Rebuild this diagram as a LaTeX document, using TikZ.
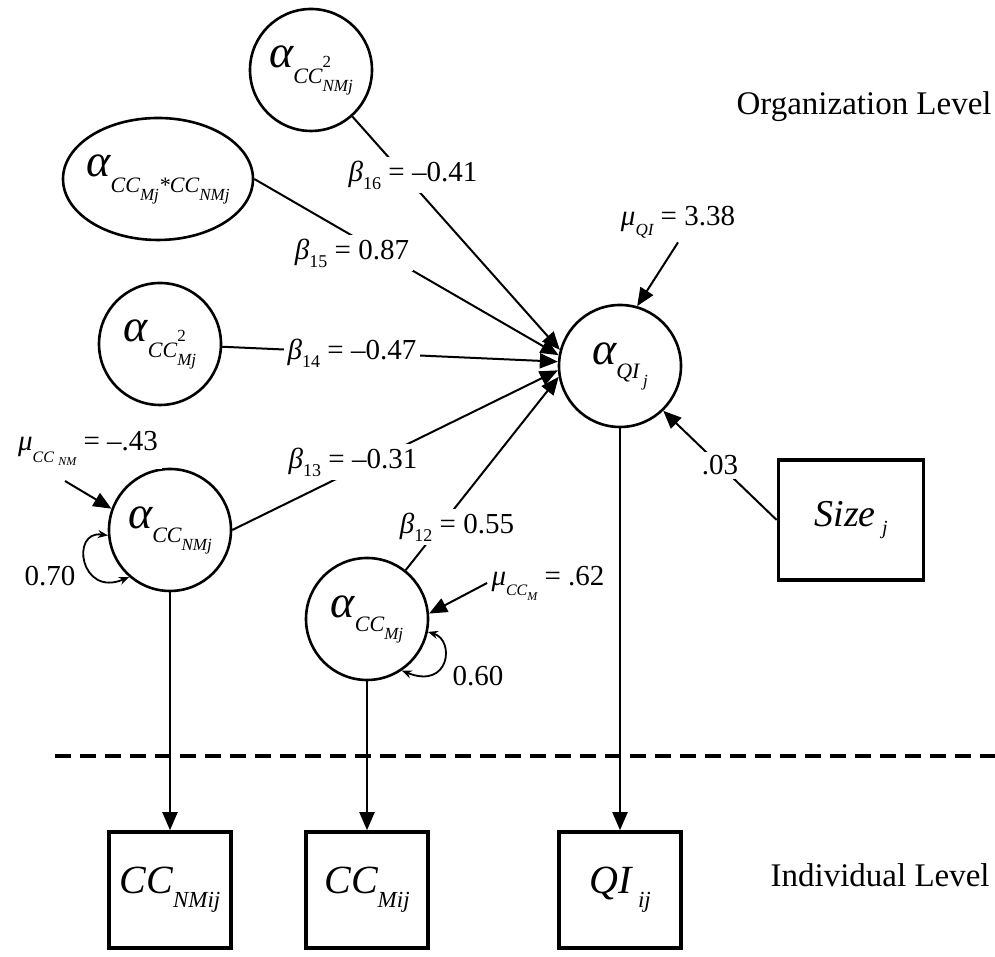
\documentclass[tikz,border=0pt]{standalone}
\usepackage{fontspec}
\setmainfont{Liberation Serif}
\usetikzlibrary{shapes.geometric,arrows.meta}
\newcommand\subtx[3]{\raisebox{#1}{\fontsize{#2}{#2}\selectfont #3}}

\begin{document}
\begin{tikzpicture}[x=1pt,y=1pt,
  latent/.style={draw=drawColor,line width=1.3pt,circle,minimum size=61pt,inner sep=0pt,
    font=\fontsize{23}{23}\selectfont\itshape},
  latentwide/.style={latent,ellipse,minimum width=95pt,minimum height=61pt,inner xsep=-4pt},
  observed/.style={draw=drawColor,line width=1.8pt,rectangle,minimum width=61pt,minimum height=58pt,
    inner sep=0pt,font=\fontsize{20}{20}\selectfont\itshape},
  coef/.style={fill=white,inner sep=2pt,font=\fontsize{14.5}{14.5}\selectfont},
  level/.style={anchor=base east,inner sep=0pt,font=\fontsize{16.5}{16.5}\selectfont},
  link/.style={draw=drawColor,line width=1pt},
  arrowlink/.style={link,-{Triangle[length=9pt,width=7.5pt]}},
  selfloop/.style={link,line width=0.9pt,{Stealth[length=5pt,width=4pt]}-{Stealth[length=5pt,width=4pt]}}]
\definecolor{drawColor}{RGB}{0,0,0}
\path[use as bounding box,fill=white] (0,0) rectangle (497.5,478.5);

% organization level
\node[latent] (a16) at (155.5,443.5) {α\subtx{-8pt}{11pt}{CC\rlap{\subtx{8pt}{8.5pt}{\upshape 2}}\subtx{-4pt}{8.5pt}{NMj}}};
\node[latentwide] (a15) at ( 79.0,389.0) {α\subtx{-8pt}{11pt}{CC\subtx{-4pt}{8.5pt}{Mj}*CC\subtx{-4pt}{8.5pt}{NMj}}};
\node[latent] (a14) at ( 80.0,306.5) {α\subtx{-8pt}{11pt}{CC\rlap{\subtx{8pt}{8.5pt}{\upshape 2}}\subtx{-4pt}{8.5pt}{Mj}}};
\node[latent] (a13) at ( 85.0,213.5) {α\subtx{-7pt}{11pt}{CC\subtx{-4pt}{8.5pt}{NMj}}};
\node[latent] (a12) at (183.5,169.0) {α\subtx{-7pt}{11pt}{CC\subtx{-4pt}{8.5pt}{Mj}}};
\node[latent] (aQI) at (310.0,295.5) {α\subtx{-7pt}{11pt}{QI\,\subtx{-4pt}{8.5pt}{j}}};
\node[observed,minimum width=72.5pt,minimum height=60pt,font=\fontsize{19}{19}\selectfont\itshape] (sz) at (425.5,218.5) {Size\,\subtx{-4pt}{10pt}{j}};

\node[level] (orgLevel) at (496.0,421.0) {Organization Level};

% paths into the intercept of QI
\draw[arrowlink] (a16) -- (aQI.165);
\draw[arrowlink] (a15.east) -- (aQI.170);
\draw[arrowlink] (a14) -- (aQI.176);
\draw[arrowlink] (a13.east) -- (aQI.184);
\draw[arrowlink] (a12) -- (aQI.190);
\draw[arrowlink] (sz.west) -- node[coef] (w03) {.03} (aQI.-46);

\node[coef] (b16) at (206.5,391.0) {{\itshape β}\subtx{-4pt}{9pt}{16} = –0.41};
\node[coef] (b15) at (176.0,352.0) {{\itshape β}\subtx{-4pt}{9pt}{15} = 0.87};
\node[coef] (b14) at (176.0,302.0) {{\itshape β}\subtx{-4pt}{9pt}{14} = –0.47};
\node[coef] (b13) at (176.5,247.5) {{\itshape β}\subtx{-4pt}{9pt}{13} = –0.31};
\node[coef] (b12) at (228.5,215.0) {{\itshape β}\subtx{-4pt}{9pt}{12} = 0.55};

% means
\node[coef] (mQI) at (339.0,367.5) {{\itshape μ}\subtx{-5pt}{8.5pt}{\itshape QI} = 3.38};
\node[coef] (mCCNM) at (44.0,254.5) {{\itshape μ}\subtx{-6pt}{8pt}{\itshape CC\;\subtx{-1.5pt}{6pt}{NM}} = –.43};
\node[coef] (mCCM) at (274.0,187.0) {{\itshape μ}\subtx{-5pt}{8pt}{\itshape CC\subtx{-2.5pt}{6pt}{M}} = .62};
\coordinate (mCCNMfoot) at (32.5,238.0);
\draw[arrowlink] (mQI.south) -- (aQI.74);
\draw[arrowlink] (mCCNMfoot) -- (a13.160);
\draw[arrowlink] (mCCM.west) -- (a12.5);

% variances
\draw[selfloop] (a13.185) .. controls (35.0,213.5) and (40.0,179.5) .. (a13.229);
\draw[selfloop] (a12.-12) .. controls (227.5,158.5) and (225.0,133.5) .. (a12.-56);
\node[coef] (r70) at (25.0,190.5) {0.70};
\node[coef] (r60) at (239.0,140.5) {0.60};

\path[draw=drawColor,line width=2pt,dash pattern=on 8pt off 4.5pt] (27.5,100.5) -- (497.5,100.5);

% individual level
\node[observed] (cnm) at ( 85.0,33.5) {CC\subtx{-7pt}{11.5pt}{NMij}};
\node[observed] (cm) at (183.5,33.5) {CC\subtx{-7pt}{11.5pt}{Mij}};
\node[observed] (qi) at (310.0,33.5) {QI\,\subtx{-7pt}{11.5pt}{ij}};
\node[level] (indLevel) at (495.0,35.0) {Individual Level};

\draw[arrowlink] (a13) -- (cnm);
\draw[arrowlink] (a12) -- (cm);
\draw[arrowlink] (aQI) -- (qi);
\end{tikzpicture}
\end{document}
